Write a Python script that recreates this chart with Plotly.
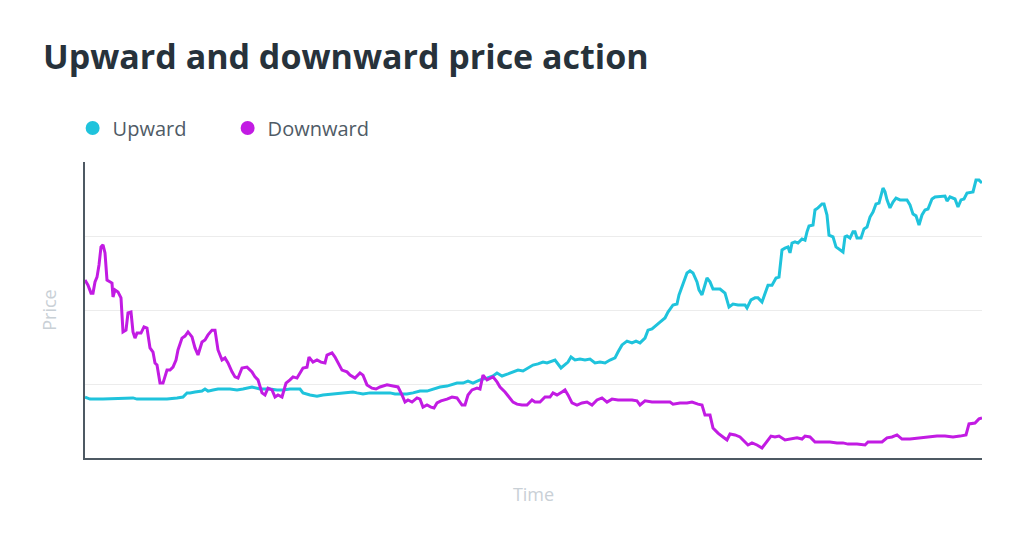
"""Upward and downward price action line chart."""

import plotly.graph_objects as go

UP_COLOR = "#1fc3dc"
DOWN_COLOR = "#c21be3"
TITLE_COLOR = "#27323b"
LEGEND_TEXT = "#4f5b66"
AXIS_TITLE = "#c9d0d6"
AXIS_LINE = "#4e5963"
GRID = "#ececec"
FONT = "Open Sans"

# the page body has an 8px margin, so the figure is sized to fit inside it
PAGE_OFFSET = 8

# time steps (arbitrary units) and prices
up_time = [
    0, 5, 18, 40, 45, 48, 52, 68, 82, 92, 98, 102, 105, 110, 117, 120, 123, 128,
    133, 145, 152, 158, 167, 175, 185, 192, 198, 205, 215, 218, 225, 232, 238,
    248, 258, 268, 272, 278, 285, 295, 305, 310, 315, 322, 328, 335, 342, 348,
    355, 362, 372, 378, 383, 388, 395, 402, 408, 412, 417, 423, 428, 433, 438,
    443, 448, 453, 458, 462, 467, 470, 476, 480, 483, 486, 490, 495, 500, 505,
    510, 515, 520, 525, 530, 533, 537, 542, 547, 551, 555, 560, 563, 567, 571,
    575, 580, 583, 588, 592, 594, 598, 602, 605, 608, 612, 614, 617, 620, 622,
    625, 628, 635, 640, 644, 648, 653, 660, 662, 666, 670, 673, 677, 681, 683,
    687, 691, 694, 697, 700, 703, 705, 707, 710, 713, 717, 720, 722, 724, 728,
    730, 733, 737, 739, 742, 744, 748, 751, 754, 758, 760, 762, 765, 768, 770,
    772, 776, 779, 782, 785, 788, 791, 794, 798, 800, 802, 805, 808, 811, 815,
    822, 825, 828, 831, 834, 837, 840, 843, 847, 850, 860, 862, 865, 870, 873,
    876, 879, 882, 888, 891, 894, 897,
]
up_price = [
    20.6, 19.9, 19.9, 20.3, 20.3, 20.3, 19.9, 19.9, 19.9, 20.3, 20.6, 22.0, 22.0,
    22.3, 22.6, 23.3, 22.6, 23.0, 23.3, 23.3, 23.0, 23.3, 24.0, 23.3, 23.3, 23.0,
    23.0, 23.3, 23.3, 22.0, 21.3, 20.9, 21.3, 21.6, 22.0, 22.3, 22.0, 21.6, 22.0,
    22.0, 22.0, 21.6, 21.6, 21.6, 22.0, 22.6, 22.6, 23.3, 24.0, 24.3, 25.3, 25.3,
    26.0, 25.3, 26.4, 27.0, 27.7, 28.7, 27.7, 28.4, 29.1, 29.7, 29.4, 30.4, 31.4,
    31.8, 32.4, 32.1, 32.8, 33.1, 30.4, 31.4, 32.4, 34.1, 33.1, 33.4, 33.1, 33.4,
    32.1, 32.4, 32.1, 33.1, 33.8, 35.8, 38.2, 39.5, 38.9, 39.5, 38.9, 40.5, 43.2,
    43.6, 44.6, 45.9, 47.3, 49.3, 51.7, 52.0, 55.1, 59.1, 62.5, 63.2, 62.5, 59.5,
    56.8, 55.1, 59.1, 60.8, 59.5, 57.1, 57.1, 55.7, 51.0, 52.0, 51.7, 51.7, 50.7,
    53.4, 54.1, 54.1, 52.7, 56.1, 58.4, 58.4, 60.8, 61.1, 70.3, 70.9, 71.3, 69.3,
    72.6, 73.0, 72.6, 74.0, 73.6, 76.4, 78.4, 78.7, 83.8, 84.5, 85.8, 85.8, 82.1,
    75.3, 74.7, 71.3, 70.6, 69.6, 74.7, 75.0, 74.3, 76.4, 76.4, 74.3, 74.3, 77.4,
    78.0, 81.4, 83.1, 85.8, 86.1, 91.2, 89.9, 87.2, 84.5, 86.5, 87.8, 87.2, 87.2,
    85.5, 82.4, 81.8, 78.7, 82.1, 83.8, 84.1, 87.5, 88.2, 88.5, 86.8, 88.2, 87.5,
    84.8, 87.2, 87.5, 89.5, 89.9, 93.9, 93.9, 92.9,
]

down_time = [
    0, 3, 6, 8, 10, 12, 14, 16, 18, 20, 22, 25, 27, 28, 30, 33, 36, 38, 41, 43,
    46, 48, 50, 52, 56, 59, 62, 65, 68, 70, 72, 75, 78, 82, 85, 88, 91, 93, 97,
    100, 103, 107, 110, 113, 117, 120, 123, 127, 130, 133, 137, 140, 143, 147,
    150, 153, 157, 162, 167, 170, 173, 177, 180, 183, 187, 190, 193, 197, 201,
    205, 208, 212, 215, 218, 222, 224, 228, 232, 236, 240, 242, 247, 250, 253,
    257, 262, 265, 270, 275, 278, 282, 287, 291, 295, 302, 308, 313, 317, 320,
    323, 327, 332, 335, 338, 342, 346, 349, 352, 356, 362, 367, 372, 377, 380,
    383, 387, 392, 395, 398, 402, 405, 408, 412, 415, 420, 425, 428, 432, 437,
    442, 447, 450, 455, 460, 465, 468, 472, 477, 480, 483, 487, 492, 497, 502,
    507, 512, 517, 522, 527, 533, 540, 547, 552, 555, 560, 567, 575, 585, 588,
    595, 602, 607, 613, 617, 620, 625, 628, 633, 638, 642, 645, 650, 655, 660,
    663, 667, 672, 677, 681, 686, 690, 694, 700, 705, 712, 717, 720, 725, 730,
    737, 745, 752, 758, 763, 772, 780, 783, 790, 797, 802, 807, 812, 817, 825,
    835, 845, 852, 860, 868, 875, 881, 884, 890, 894, 897,
]
down_price = [
    60.1, 58.4, 55.7, 55.7, 59.5, 61.1, 65.2, 71.3, 72.0, 69.3, 60.1, 59.5, 59.1,
    54.4, 56.8, 56.1, 54.1, 42.6, 43.2, 49.0, 49.3, 42.6, 40.5, 42.2, 42.2, 44.3,
    43.9, 37.2, 35.8, 32.1, 31.4, 25.3, 25.3, 29.7, 29.7, 30.7, 33.1, 36.5, 40.5,
    41.2, 42.6, 40.9, 37.2, 34.8, 39.2, 39.9, 41.6, 43.2, 43.2, 36.5, 33.1, 33.8,
    32.1, 29.1, 27.4, 27.0, 30.4, 30.7, 29.1, 27.4, 26.4, 22.0, 21.3, 23.6, 23.0,
    20.6, 21.3, 20.6, 25.3, 26.4, 27.4, 27.0, 28.7, 30.4, 30.7, 34.1, 32.4, 33.1,
    32.4, 32.1, 34.8, 35.5, 34.1, 32.4, 29.7, 29.1, 28.0, 27.0, 28.7, 28.0, 24.7,
    23.6, 23.3, 24.0, 24.7, 24.3, 24.0, 21.3, 18.9, 19.6, 18.9, 20.3, 19.9, 17.2,
    17.9, 17.2, 16.9, 18.6, 19.3, 19.9, 20.6, 20.3, 17.9, 17.9, 21.3, 23.0, 23.6,
    23.3, 28.0, 26.4, 27.0, 27.4, 25.7, 24.0, 22.3, 20.3, 18.9, 18.2, 17.9, 17.9,
    19.6, 18.9, 18.9, 20.6, 20.6, 22.0, 21.3, 22.3, 23.0, 21.3, 18.6, 17.9, 18.6,
    18.9, 17.9, 19.6, 20.3, 18.9, 19.9, 19.6, 19.6, 19.6, 19.3, 17.9, 19.3, 18.9,
    18.9, 18.9, 18.2, 18.6, 18.6, 18.9, 18.2, 17.9, 14.5, 14.5, 10.1, 8.4, 7.1,
    6.1, 8.1, 7.8, 7.1, 5.4, 4.4, 5.1, 4.4, 3.4, 5.1, 7.4, 7.1, 7.4, 6.1, 6.4,
    6.8, 6.4, 7.4, 7.1, 5.4, 5.4, 5.4, 5.1, 5.1, 4.7, 4.7, 4.4, 5.4, 5.4, 5.4,
    6.8, 7.1, 7.8, 6.4, 6.4, 6.8, 7.1, 7.4, 7.4, 7.1, 7.4, 7.8, 11.5, 11.8, 13.2,
    13.5,
]

series = [
    ("Upward", up_time, up_price, UP_COLOR),
    ("Downward", down_time, down_price, DOWN_COLOR),
]

WIDTH = 1024 - 2 * PAGE_OFFSET
HEIGHT = 549 - 2 * PAGE_OFFSET

fig = go.Figure()
for name, xs, ys, color in series:
    fig.add_trace(
        go.Scatter(
            x=xs,
            y=ys,
            mode="lines",
            line={"color": color, "width": 3},
            name=name,
            showlegend=False,
        )
    )
    # marker-only trace so the legend shows a dot instead of a line
    fig.add_trace(
        go.Scatter(
            x=[None],
            y=[None],
            mode="markers",
            marker={"color": color, "size": 14},
            name=name,
        )
    )

fig.update_layout(
    width=WIDTH,
    height=HEIGHT,
    paper_bgcolor="white",
    plot_bgcolor="white",
    font={"family": FONT, "color": LEGEND_TEXT},
    margin={"l": 77, "r": 34, "t": 154, "b": 83},
    title={
        "text": "<b>Upward and downward price action</b>",
        "x": 35 / WIDTH,
        "xanchor": "left",
        "xref": "container",
        "y": 1 - 49 / HEIGHT,
        "yanchor": "middle",
        "yref": "container",
        "font": {"family": FONT, "size": 34, "color": TITLE_COLOR},
    },
    legend={
        "orientation": "h",
        "x": -0.0138,
        "xanchor": "left",
        "y": 1.115,
        "yanchor": "middle",
        "entrywidth": 110,
        "entrywidthmode": "pixels",
        "font": {"family": FONT, "size": 20, "color": LEGEND_TEXT},
    },
    hovermode=False,
)
fig.update_xaxes(
    range=[0, 897],
    showticklabels=False,
    showgrid=False,
    zeroline=False,
    showline=True,
    linecolor=AXIS_LINE,
    linewidth=2,
    ticks="",
    title={"text": "Time", "standoff": 29, "font": {"size": 18, "color": AXIS_TITLE}},
)
fig.update_yaxes(
    range=[0, 100],
    dtick=25,
    showticklabels=False,
    gridcolor=GRID,
    gridwidth=1,
    zeroline=False,
    showline=True,
    linecolor=AXIS_LINE,
    linewidth=2,
    ticks="",
    title={"text": "Price", "standoff": 22, "font": {"size": 18, "color": AXIS_TITLE}},
)

fig.write_html("out.html")
